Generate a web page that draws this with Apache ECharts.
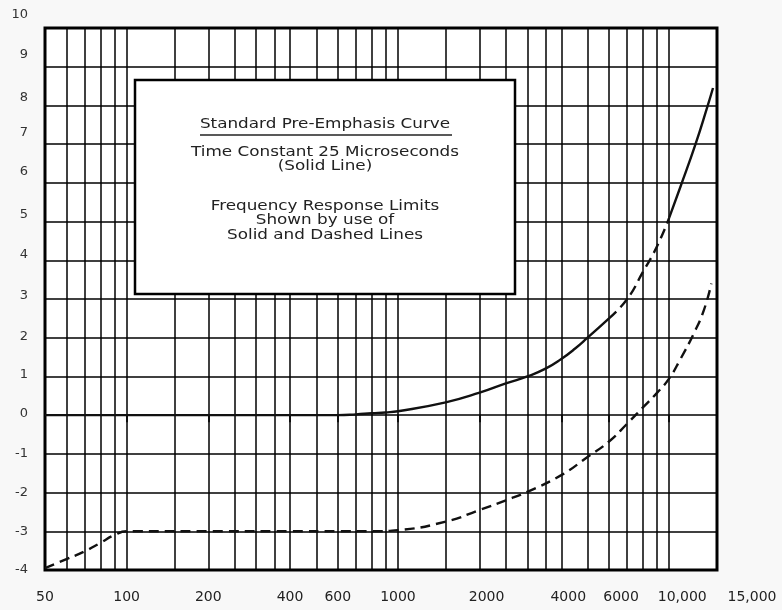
<!DOCTYPE html>
<html>
<head>
    <meta charset="utf-8">
    <title>Standard Pre-Emphasis Curve</title>
    <script src="https://cdn.jsdelivr.net/npm/echarts@6.0.0/dist/echarts.min.js"></script>
    <style>
        html, body { margin: 0; padding: 0; background: #f8f8f8; }
        #chart { width: 782px; height: 610px; }
    </style>
</head>
<body>
    <div id="chart"></div>
    <script>
        // frequencies (Hz) where the chart paper has vertical rules
        const gridFreqs = [60, 70, 80, 90, 100, 150, 200, 250, 300, 350, 400, 500, 600, 700, 800, 900,
                           1000, 1500, 2000, 2500, 3000, 3500, 4000, 5000, 6000, 7000, 8000, 9000, 10000];
        const labelFreqs = [50, 100, 200, 400, 600, 1000, 2000, 4000, 6000, 10000, 15000];
        const tickFreqs = [100, 200, 400, 600, 1000, 2000, 4000, 6000, 10000];

        // standard curve (dB)
        const upperSolidA = [[50, 0], [100, 0], [200, 0], [400, 0], [600, 0], [700, 0.02], [800, 0.05],
                             [900, 0.07], [1000, 0.1], [1500, 0.33], [2000, 0.58], [2500, 0.82],
                             [3000, 1.0], [3500, 1.2], [4000, 1.45], [4500, 1.72], [5000, 2.0], [6000, 2.5]];
        const upperDashed = [[6000, 2.5], [7000, 3.0], [8000, 3.7], [9000, 4.35], [10000, 5.1]];
        const upperSolidB = [[10000, 5.1], [11000, 5.9], [12500, 7.0], [13800, 7.95], [14500, 8.45]];
        // lower limit (dashed)
        const lowerDashed = [[50, -3.95], [60, -3.72], [70, -3.52], [80, -3.3], [90, -3.1], [100, -3.0],
                             [200, -3.0], [400, -3.0], [600, -3.0], [800, -3.0], [1000, -2.97],
                             [1500, -2.75], [2000, -2.45], [2500, -2.2], [3000, -1.98], [4000, -1.55],
                             [5000, -1.08], [6000, -0.68], [7000, -0.22], [8000, 0.2], [9000, 0.57],
                             [10000, 0.95], [11000, 1.45], [12300, 2.1], [13400, 2.7], [14300, 3.4]];

        // the printed labels drift a little off their rules
        const xLabelShift = { 2000: 7, 4000: 7, 6000: 12, 10000: 13, 15000: 35 };
        const yLabelShift = { 10: 13, 9: 12, 8: 8, 7: 12, 6: 11, 5: 7, 4: 6, 3: 3, 2: 1, 1: 2, 0: 2 };

        const chart = echarts.init(document.getElementById('chart'));
        const font = '"DejaVu Sans", sans-serif';

        const curve = (data, dashed) => ({
            type: 'line',
            data: data,
            showSymbol: false,
            smooth: 0.5,
            z: 5,
            lineStyle: { color: '#111', width: 2.4, type: dashed ? [10, 6] : 'solid' }
        });

        const boxText = (text, y) => ({
            type: 'text', z: 101, x: 325, y: y, scaleX: 1.2,
            style: { text: text, font: '14px ' + font, fill: '#222', align: 'center', verticalAlign: 'middle' }
        });

        chart.setOption({
            backgroundColor: '#f8f8f8',
            animation: false,
            grid: {
                left: 45, right: 65, top: 28, bottom: 40,
                show: true, backgroundColor: '#fff', borderColor: '#000', borderWidth: 3
            },
            xAxis: {
                type: 'log',
                logBase: 10,
                min: 50,
                max: 15000,
                axisLine: { show: false },
                splitLine: { show: false },
                minorSplitLine: { show: false },
                axisTick: {
                    show: true, customValues: tickFreqs, length: 7, inside: false,
                    lineStyle: { color: '#000', width: 1.5 }
                },
                axisLabel: {
                    customValues: labelFreqs,
                    margin: 20,
                    fontSize: 14,
                    fontFamily: font,
                    color: '#222',
                    formatter: v => {
                        const s = v >= 10000 ? v.toLocaleString('en-US') : String(v);
                        return xLabelShift[v] ? '{s' + xLabelShift[v] + '|' + s + '}' : s;
                    },
                    rich: Object.fromEntries(Object.values(xLabelShift).map(d =>
                        ['s' + d, { padding: [0, 0, 0, 2 * d], fontSize: 14, fontFamily: font, color: '#222' }]))
                }
            },
            yAxis: {
                type: 'value',
                min: -4,
                max: 10,
                interval: 1,
                axisLine: { show: false },
                axisTick: { show: false },
                splitLine: { lineStyle: { color: '#000', width: 1.5 } },
                axisLabel: {
                    margin: 17, fontSize: 13, fontFamily: font, color: '#333',
                    formatter: v => yLabelShift[v] ? '{u' + yLabelShift[v] + '|' + v + '}' : String(v),
                    rich: Object.fromEntries(Object.values(yLabelShift).map(d =>
                        ['u' + d, { padding: [0, 0, 2 * d, 0], fontSize: 13, fontFamily: font, color: '#333' }]))
                }
            },
            graphic: [
                {
                    type: 'rect', z: 100,
                    shape: { x: 135, y: 80, width: 380, height: 214 },
                    style: { fill: '#fff', stroke: '#000', lineWidth: 2.5 }
                },
                boxText('Standard Pre-Emphasis Curve', 124),
                { type: 'line', z: 101, shape: { x1: 200, y1: 135, x2: 452, y2: 135 }, style: { stroke: '#222', lineWidth: 1.4 } },
                boxText('Time Constant 25 Microseconds', 152),
                boxText('(Solid Line)', 166),
                boxText('Frequency Response Limits', 206),
                boxText('Shown by use of', 220),
                boxText('Solid and Dashed Lines', 235)
            ],
            series: [
                {
                    type: 'line',
                    data: [],
                    z: 1,
                    markLine: {
                        silent: true,
                        symbol: ['none', 'none'],
                        label: { show: false },
                        lineStyle: { color: '#000', width: 1.5, type: 'solid' },
                        data: gridFreqs.map(f => ({ xAxis: f }))
                    }
                },
                curve(upperSolidA, false),
                curve(upperDashed, true),
                curve(upperSolidB, false),
                curve(lowerDashed, true)
            ]
        });
    </script>
</body>
</html>
